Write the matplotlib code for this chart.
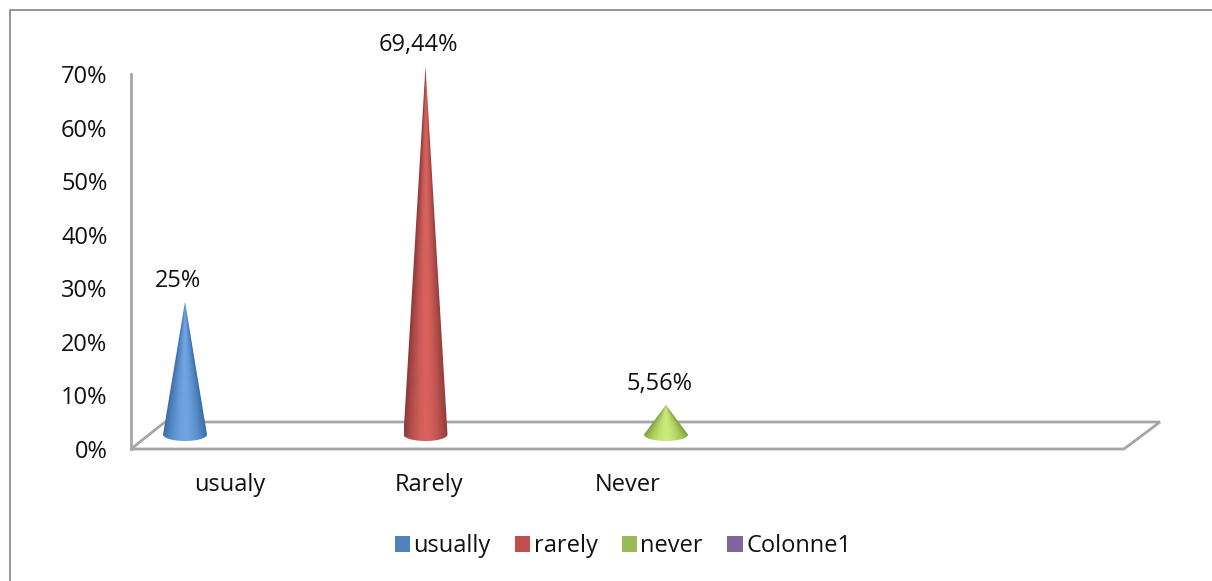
import numpy as np
import matplotlib
matplotlib.use("Agg")
import matplotlib.pyplot as plt
from matplotlib.lines import Line2D
from matplotlib.patches import Patch, PathPatch, Polygon
from matplotlib.path import Path

plt.rcParams['font.family'] = ['Open Sans', 'DejaVu Sans']

categories = ['usualy', 'Rarely', 'Never']
values = [25, 69.44, 5.56]
value_labels = ['25%', '69,44%', '5,56%']
y_ticks = [0, 10, 20, 30, 40, 50, 60, 70]
y_tick_labels = ['0%', '10%', '20%', '30%', '40%', '50%', '60%', '70%']
legend_names = ['usually', 'rarely', 'never', 'Colonne1']
legend_colors = ['#4f81bd', '#c0504d', '#9bbb59', '#8064a2']
edge_colors = ['#3a6ca6', '#8f3b39', '#7f9e38']
mid_colors = ['#6fa5e3', '#d9625e', '#cbeb7c']

W, H = 1212, 581
GRAY = '#a6a6a6'
FS = 17

fig = plt.figure(figsize=(W / 100, H / 100), dpi=100, facecolor='white')
L, R, T, B = 131, 1124, 74, 449
ax = fig.add_axes([L / W, 1 - B / H, (R - L) / W, (B - T) / H])
ax.patch.set_visible(False)

# outer frame (left and top only are inside the crop)
fig.add_artist(Line2D([10 / W, 10 / W, 1], [0, 1 - 10 / H, 1 - 10 / H], color='#8c8c8c', lw=1.3))

xpx = 240.5                # pixels per category
ypx = (B - T) / 70         # pixels per percent
xlim = ((L - 185) / xpx, (R - 185) / xpx)
ylim = (0, 70)

# floor parallelogram
dx_l, dx_r, dz = 34 / xpx, 36 / xpx, 27 / ypx
floor = Polygon([[xlim[0], 0], [xlim[1], 0], [xlim[1] + dx_r, dz], [xlim[0] + dx_l, dz]],
                closed=True, fill=False, ec=GRAY, lw=2.0, joinstyle='miter', clip_on=False, zorder=1)
ax.add_patch(floor)

# cones
base = 14.5 / ypx
hw = 22 / xpx
hh = 6.5 / ypx
cone_scale = 0.99


def hex_rgb(c):
    return np.array(matplotlib.colors.to_rgb(c))


for i, v in enumerate(values):
    top = base + v * cone_scale
    t = np.linspace(0, np.pi, 40)
    arc = np.c_[i + hw * np.cos(t), base - hh * np.sin(t)]
    verts = np.vstack([[[i, top]], arc, [[i, top]]])
    clip = PathPatch(Path(verts), transform=ax.transData, fc='none', ec='none', clip_on=False)
    ax.add_patch(clip)
    ny, nx = 500, 160
    ys = np.linspace(top, base - hh, ny)
    xs = np.linspace(-hw, hw, nx)
    X, Y = np.meshgrid(xs, ys)
    width = np.clip((top - Y) / (top - base), 1e-3, None) * hw
    u = np.clip(np.abs(X) / width, 0, 1) ** 1.6
    rgb = hex_rgb(mid_colors[i]) * (1 - u[..., None]) + hex_rgb(edge_colors[i]) * u[..., None]
    im = ax.imshow(rgb, extent=[i - hw, i + hw, base - hh, top], origin='upper',
                   aspect='auto', zorder=3, interpolation='bilinear')
    im.set_clip_box(fig.bbox)
    im.set_clip_path(clip)
    ax.annotate(value_labels[i], (i, top), xytext=(-5, 15.2), textcoords='offset points',
                ha='center', va='center', fontsize=FS, color='#111111', annotation_clip=False, zorder=4)

ax.set_xlim(*xlim)
ax.set_ylim(*ylim)

# axes
for s in ['top', 'right', 'bottom']:
    ax.spines[s].set_visible(False)
ax.spines['left'].set_color(GRAY)
ax.spines['left'].set_linewidth(2.0)
ax.set_yticks(y_ticks)
ax.set_yticklabels(y_tick_labels, fontsize=FS, color='#111111')
ax.tick_params(axis='y', length=0, pad=17)
label_x = [(230 - 185) / xpx, (429 - 185) / xpx, (628 - 185) / xpx]
ax.set_xticks(label_x)
ax.set_xticklabels(categories, fontsize=FS, color='#111111')
ax.tick_params(axis='x', length=0, pad=17)

handles = [Patch(fc=c, ec='none', label=n) for c, n in zip(legend_colors, legend_names)]
fig.legend(handles=handles, loc='center', bbox_to_anchor=(623 / W, 1 - 546 / H), ncol=4,
           frameon=False, fontsize=FS, handlelength=0.65, handleheight=0.65,
           handletextpad=0.14, columnspacing=1.03, labelcolor='#111111')

fig.savefig('out.png', dpi=100, facecolor='white')
